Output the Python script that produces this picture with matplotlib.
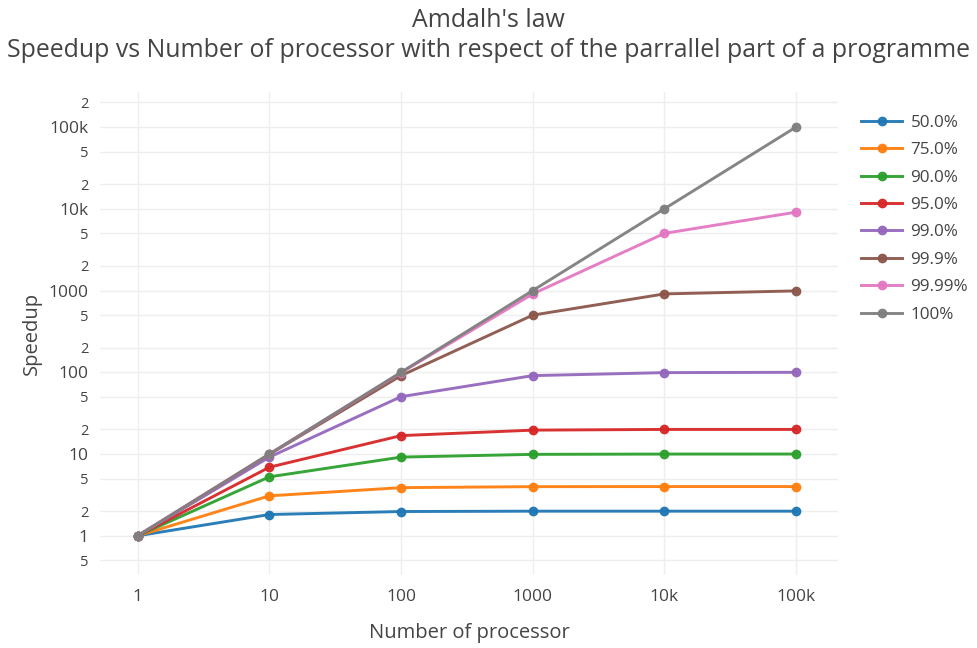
import numpy as np
import matplotlib.pyplot as plt
from matplotlib.ticker import FixedLocator, FixedFormatter

plt.rcParams['font.family'] = ['Open Sans', 'DejaVu Sans']

processors = [1, 10, 100, 1000, 10000, 100000]
labels = ['50.0%', '75.0%', '90.0%', '95.0%', '99.0%', '99.9%', '99.99%', '100%']
colors = ['#1f77b4', '#ff7f0e', '#2ca02c', '#d62728', '#9467bd', '#8c564b', '#e377c2', '#7f7f7f']
speedups = [
    [1, 1.82, 1.98, 2.0, 2.0, 2.0],
    [1, 3.08, 3.88, 3.99, 4.0, 4.0],
    [1, 5.26, 9.17, 9.91, 9.99, 10.0],
    [1, 6.9, 16.8, 19.6, 20.0, 20.0],
    [1, 9.17, 50.3, 91.0, 99.0, 99.9],
    [1, 9.91, 91.0, 500, 909, 990],
    [1, 9.99, 99.0, 909, 5000, 9091],
    [1, 10, 100, 1000, 10000, 100000],
]

fig = plt.figure(figsize=(9.77, 6.48), dpi=100)
ax = fig.add_axes([0.102, 0.113, 0.756, 0.745])

for lab, col, ys in zip(labels, colors, speedups):
    ax.plot(processors, ys, color=col, lw=2.1, marker='o', ms=6, alpha=0.95, label=lab, zorder=3)

ax.set_xscale('log')
ax.set_yscale('log')
ax.set_xlim(10 ** -0.289, 10 ** 5.32)
ax.set_ylim(10 ** -0.477, 10 ** 5.428)

txt = '#444444'
ax.xaxis.set_major_locator(FixedLocator(processors))
ax.xaxis.set_major_formatter(FixedFormatter(['1', '10', '100', '1000', '10k', '100k']))
ax.xaxis.set_minor_locator(FixedLocator([]))

major_y = [1, 10, 100, 1000, 10000, 100000]
minor_y = [0.5, 2, 5, 20, 50, 200, 500, 2000, 5000, 20000, 50000, 200000]
ax.yaxis.set_major_locator(FixedLocator(major_y))
ax.yaxis.set_major_formatter(FixedFormatter(['1', '10', '100', '1000', '10k', '100k']))
ax.yaxis.set_minor_locator(FixedLocator(minor_y))
ax.yaxis.set_minor_formatter(FixedFormatter(['5', '2', '5', '2', '5', '2', '5', '2', '5', '2', '5', '2']))

ax.tick_params(which='both', length=0, colors=txt)
ax.tick_params(axis='x', which='major', labelsize=12.5, pad=10)
ax.tick_params(axis='y', which='major', labelsize=12.5, pad=8)
ax.tick_params(axis='y', which='minor', labelsize=10.5, pad=8)

ax.grid(True, which='both', color='#eeeeee', lw=1, zorder=0)
for s in ax.spines.values():
    s.set_visible(False)

ax.set_xlabel('Number of processor', fontsize=14.5, color=txt, va='center')
ax.xaxis.set_label_coords(0.5, -0.12)
ax.set_ylabel('Speedup', fontsize=14.5, color=txt, va='center')
ax.yaxis.set_label_coords(-0.092, 0.5)
fig.suptitle("Amdalh's law\nSpeedup vs Number of processor with respect of the parrallel part of a programme",
             fontsize=17.9, color=txt, y=0.988, linespacing=1.3)

leg = ax.legend(loc='upper left', bbox_to_anchor=(1.01, 0.985), frameon=False,
                fontsize=12.3, handlelength=2.4, labelspacing=0.67, handletextpad=0.5)
for t in leg.get_texts():
    t.set_color(txt)

fig.savefig('out.png', dpi=100)
